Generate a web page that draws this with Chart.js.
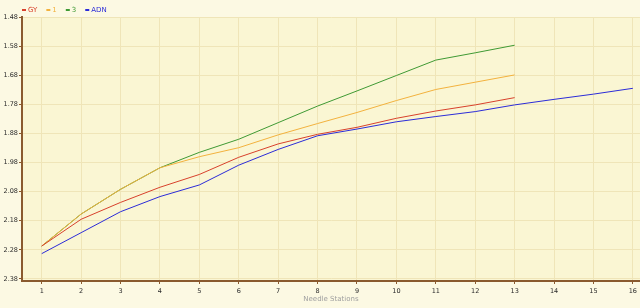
<!DOCTYPE html>
<html lang="en">
<head>
<meta charset="UTF-8" />
<title>Needle Stations</title>
<style>
  html, body { margin: 0; padding: 0; background: #fcf9e3; }
  #wrap { width: 640px; height: 308px; position: relative; }
</style>
</head>
<body>
<div id="wrap"><canvas id="chart" width="640" height="308"></canvas></div>
<script src="https://cdn.jsdelivr.net/npm/chart.js@4.4.0/dist/chart.umd.min.js"></script>
<script>
  // data
  const stations = [1, 2, 3, 4, 5, 6, 7, 8, 9, 10, 11, 12, 13, 14, 15, 16];
  const seriesNames = ['GY', '1', '3', 'ADN'];
  const gyValues  = [2.267, 2.175, 2.117, 2.065, 2.021, 1.962, 1.916, 1.883, 1.859, 1.828, 1.803, 1.782, 1.757];
  const oneValues = [2.267, 2.157, 2.072, 1.998, 1.960, 1.929, 1.885, 1.846, 1.808, 1.767, 1.729, 1.704, 1.679];
  const threeValues = [2.267, 2.157, 2.072, 1.998, 1.945, 1.900, 1.843, 1.786, 1.734, 1.681, 1.628, 1.603, 1.577];
  const adnValues = [2.293, 2.221, 2.149, 2.097, 2.057, 1.989, 1.935, 1.888, 1.865, 1.840, 1.822, 1.805, 1.782, 1.763, 1.745, 1.725];
  const yTicks = [1.48, 1.58, 1.68, 1.78, 1.88, 1.98, 2.08, 2.18, 2.28, 2.38];

  const colors = ['#d8412c', '#f3b23e', '#3f9a34', '#2c2cd8'];
  const FONT = '"DejaVu Sans", Verdana, sans-serif';

  function toPoints(values) {
    return values.map((v, i) => ({ x: stations[i], y: v }));
  }

  const allSeries = [gyValues, oneValues, threeValues, adnValues];
  // draw order: ADN below, then GY, 1, 3 on top like the original
  const order = [3, 0, 1, 2];
  const datasets = order.map(i => ({
    label: seriesNames[i],
    data: toPoints(allSeries[i]),
    borderColor: colors[i],
    backgroundColor: colors[i],
    borderWidth: 1,
    pointRadius: 0,
    tension: 0,
    fill: false
  }));

  const backgrounds = {
    id: 'backgrounds',
    beforeDraw(chart) {
      const { ctx, chartArea } = chart;
      ctx.save();
      ctx.fillStyle = '#fcf9e3';
      ctx.fillRect(0, 0, chart.width, chart.height);
      ctx.fillStyle = '#faf6d3';
      ctx.fillRect(chartArea.left, chartArea.top, chartArea.right - chartArea.left, chartArea.bottom - chartArea.top);
      ctx.restore();
    }
  };

  // small legend in the top-left corner, text coloured like the lines
  const miniLegend = {
    id: 'miniLegend',
    afterDraw(chart) {
      const ctx = chart.ctx;
      ctx.save();
      ctx.font = '7px ' + FONT;
      ctx.textBaseline = 'middle';
      let x = 22;
      const y = 10;
      seriesNames.forEach((name, i) => {
        ctx.fillStyle = colors[i];
        ctx.fillRect(x, y - 1, 4, 2);
        ctx.fillText(name, x + 6, y);
        x += 6 + ctx.measureText(name).width + 9;
      });
      ctx.restore();
    }
  };

  new Chart(document.getElementById('chart'), {
    type: 'line',
    data: { datasets },
    options: {
      responsive: false,
      animation: false,
      layout: { padding: { top: 17, right: 0, left: 0, bottom: 0 } },
      plugins: {
        legend: { display: false },
        tooltip: { enabled: false }
      },
      scales: {
        x: {
          type: 'linear',
          min: 0.5,
          max: 16.18,
          afterBuildTicks: scale => { scale.ticks = stations.map(v => ({ value: v })); },
          afterFit: scale => { scale.height = 27; },
          border: { color: '#8a5a2e', width: 2 },
          grid: { color: '#efe5b8', tickColor: '#8a5a2e', tickLength: 3, lineWidth: 1 },
          ticks: { color: '#2a2a2a', font: { family: FONT, size: 6.5 }, padding: 3, maxRotation: 0, autoSkip: false },
          title: { display: true, text: 'Needle Stations', color: '#a0a0a0', font: { family: FONT, size: 7 }, padding: { top: 0, bottom: 5 } }
        },
        y: {
          type: 'linear',
          reverse: true,
          min: 1.48,
          max: 2.387,
          afterBuildTicks: scale => { scale.ticks = yTicks.map(v => ({ value: v })); },
          afterFit: scale => { scale.width = 22; },
          border: { color: '#8a5a2e', width: 2 },
          grid: { color: '#efe5b8', tickColor: '#8a5a2e', tickLength: 3, lineWidth: 1 },
          ticks: { color: '#2a2a2a', font: { family: FONT, size: 6.5 }, padding: 1, callback: v => v.toFixed(2) }
        }
      }
    },
    plugins: [backgrounds, miniLegend]
  });
</script>
</body>
</html>
